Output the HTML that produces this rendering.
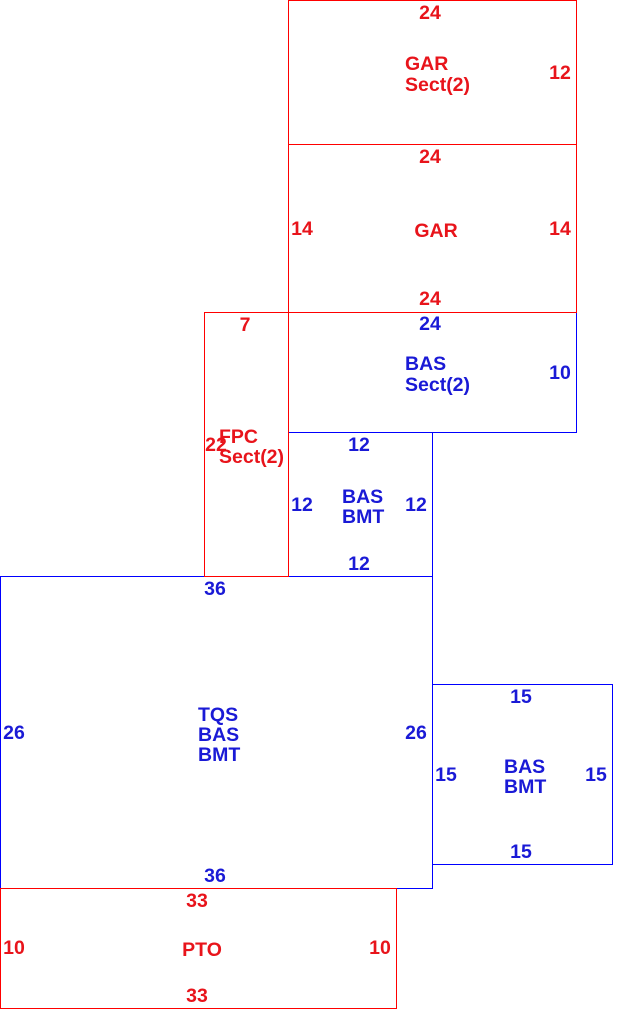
<!DOCTYPE html>
<html><head><meta charset="utf-8"><style>
html,body{margin:0;padding:0;background:#fff;}
svg{display:block;}
text{font-family:"Liberation Sans",sans-serif;font-weight:bold;font-size:19.5px;}
.r{fill:#e8141b;} .b{fill:#1a1ad6;}
</style></head><body>
<svg width="639" height="1010" viewBox="0 0 639 1010" xmlns="http://www.w3.org/2000/svg">
<g fill="none" stroke-width="1.2" shape-rendering="crispEdges">
<rect x="0.5" y="576.5" width="432" height="312" stroke="#0000ff"/>
<rect x="432.5" y="684.5" width="180" height="180" stroke="#0000ff"/>
<rect x="288.5" y="432.5" width="144" height="144" stroke="#0000ff"/>
<rect x="288.5" y="312.5" width="288" height="120" stroke="#0000ff"/>
<rect x="0.5" y="888.5" width="396" height="120" stroke="#ff0000"/>
<rect x="204.5" y="312.5" width="84" height="264" stroke="#ff0000"/>
<rect x="288.5" y="144.5" width="288" height="168" stroke="#ff0000"/>
<rect x="288.5" y="0.5" width="288" height="144" stroke="#ff0000"/>
</g>
<g text-anchor="middle">
<text class="r" x="430" y="19">24</text>
<text class="r" x="560" y="79">12</text>
<text class="r" x="430" y="163">24</text>
<text class="r" x="302" y="235">14</text>
<text class="r" x="436" y="237">GAR</text>
<text class="r" x="560" y="235">14</text>
<text class="r" x="430" y="305">24</text>
<text class="r" x="245" y="331">7</text>
<text class="b" x="430" y="330">24</text>
<text class="b" x="560" y="379">10</text>
<text class="r" x="216" y="451">22</text>
<text class="b" x="359" y="451">12</text>
<text class="b" x="302" y="511">12</text>
<text class="b" x="416" y="511">12</text>
<text class="b" x="359" y="570">12</text>
<text class="b" x="215" y="595">36</text>
<text class="b" x="14" y="739">26</text>
<text class="b" x="416" y="739">26</text>
<text class="b" x="215" y="882">36</text>
<text class="b" x="521" y="703">15</text>
<text class="b" x="446" y="781">15</text>
<text class="b" x="596" y="781">15</text>
<text class="b" x="521" y="858">15</text>
<text class="r" x="197" y="907">33</text>
<text class="r" x="14" y="954">10</text>
<text class="r" x="202" y="956">PTO</text>
<text class="r" x="380" y="954">10</text>
<text class="r" x="197" y="1002">33</text>
</g>
<g text-anchor="start">
<text class="r" x="405" y="70">GAR</text>
<text class="r" x="405" y="91">Sect(2)</text>
<text class="b" x="405" y="370">BAS</text>
<text class="b" x="405" y="391">Sect(2)</text>
<text class="r" x="219" y="443">FPC</text>
<text class="r" x="219" y="463">Sect(2)</text>
<text class="b" x="342" y="503">BAS</text>
<text class="b" x="342" y="523">BMT</text>
<text class="b" x="198" y="721">TQS</text>
<text class="b" x="198" y="741">BAS</text>
<text class="b" x="198" y="761">BMT</text>
<text class="b" x="504" y="773">BAS</text>
<text class="b" x="504" y="793">BMT</text>
</g>
</svg>
</body></html>
